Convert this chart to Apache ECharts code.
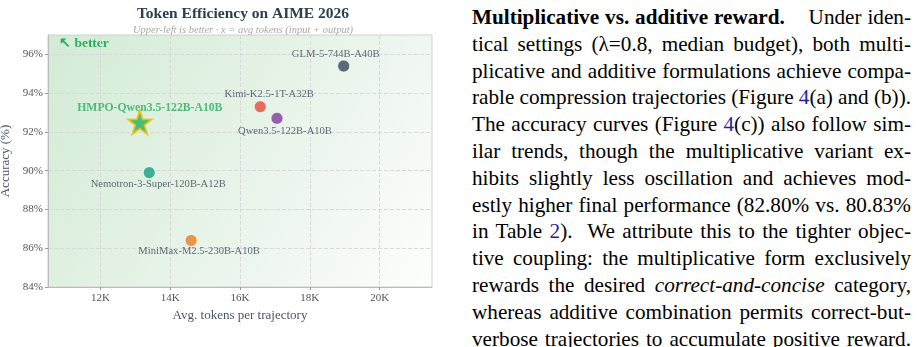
<!DOCTYPE html>
<html>
<head>
<meta charset="utf-8">
<script src="https://cdn.jsdelivr.net/npm/echarts@6/dist/echarts.min.js"></script>
<style>
  html, body { margin: 0; padding: 0; background: #fff; width: 917px; height: 347px; overflow: hidden; }
  #chart { position: absolute; left: 0; top: 0; width: 440px; height: 347px; }
  #text { position: absolute; left: 472px; top: 4px; width: 439px; font-family: "Liberation Serif", "Times New Roman", serif; font-size: 21.2px; line-height: 26.8px; color: #000; word-spacing: -2px; }
  #text div { text-align: justify; text-align-last: justify; height: 26.8px; overflow: visible; }
  #text a { color: #1f1fa8; text-decoration: none; }
</style>
</head>
<body>
<div id="chart"></div>
<div id="text">
  <div><b>Multiplicative vs. additive reward.</b>&nbsp;&nbsp;&nbsp; Under iden-</div>
  <div>tical settings (λ=0.8, median budget), both multi-</div>
  <div>plicative and additive formulations achieve compa-</div>
  <div>rable compression trajectories (Figure <a>4</a>(a) and (b)).</div>
  <div>The accuracy curves (Figure <a>4</a>(c)) also follow sim-</div>
  <div>ilar trends, though the multiplicative variant ex-</div>
  <div>hibits slightly less oscillation and achieves mod-</div>
  <div>estly higher final performance (82.80% vs. 80.83%</div>
  <div>in Table <a>2</a>). &nbsp;We attribute this to the tighter objec-</div>
  <div>tive coupling: the multiplicative form exclusively</div>
  <div>rewards the desired <i>correct-and-concise</i> category,</div>
  <div>whereas additive combination permits correct-but-</div>
  <div>verbose trajectories to accumulate positive reward.</div>
</div>
<script>
// ---- data ----
const models = ["GLM-5-744B-A40B", "Kimi-K2.5-1T-A32B", "Qwen3.5-122B-A10B", "Nemotron-3-Super-120B-A12B", "MiniMax-M2.5-230B-A10B"];
const tokens = [18970, 16580, 17060, 13400, 14600];
const accuracy = [95.4, 93.3, 92.7, 89.9, 86.4];
const hmpoName = "HMPO-Qwen3.5-122B-A10B";
const hmpoTokens = [13130];
const hmpoAccuracy = [92.5];
const xTicks = [12000, 14000, 16000, 18000, 20000];
const yTicks = [84, 86, 88, 90, 92, 94, 96];

// ---- styles ----
const colors = ["#34495e", "#e74c3c", "#7d3c98", "#16a085", "#e67e22"];
const labelPos = [
  { position: "top", offset: [-8, 5] },
  { position: "top", offset: [9, 4] },
  { position: "bottom", offset: [8, -4] },
  { position: "bottom", offset: [9, -5] },
  { position: "bottom", offset: [8, -6] }
];
const serif = '"Liberation Serif", "Times New Roman", serif';
const starPath = "path://M50,5 L61.2,38.2 L96.3,38.6 L68.2,59.6 L78.6,93.2 L50,72.9 L21.4,93.2 L31.8,59.6 L3.7,38.6 L38.8,38.2 Z";

const chart = echarts.init(document.getElementById("chart"), null, { renderer: "canvas" });
chart.setOption({
  animation: false,
  title: {
    text: "Token Efficiency on AIME 2026",
    subtext: "Upper-left is better \u00b7 x = avg tokens (input + output)",
    left: 238, textAlign: "center", top: 1, itemGap: 3,
    textStyle: { fontFamily: serif, fontSize: 15.5, fontWeight: "bold", color: "#2c3e50" },
    subtextStyle: { fontFamily: serif, fontSize: 10.5, fontStyle: "italic", color: "#a8a8a8" }
  },
  grid: {
    left: 48, right: 8, top: 35, bottom: 60, show: true,
    outerBoundsMode: "none", containLabel: false,
    borderColor: "#d0d0d0", borderWidth: 1,
    backgroundColor: { type: "linear", x: 0, y: 0, x2: 1, y2: 1,
      colorStops: [{ offset: 0, color: "#d2ebd5" }, { offset: 0.55, color: "#e9f4ea" }, { offset: 1, color: "#fdfefd" }] }
  },
  graphic: [{
    type: "text", left: 59, top: 37,
    style: { text: "\u2196 better", font: 'bold 13.5px "Liberation Serif", serif', fill: "#27ae60" }
  }],
  xAxis: {
    type: "value", min: 10500, max: 21500,
    name: "Avg. tokens per trajectory", nameLocation: "middle", nameGap: 18,
    nameTextStyle: { fontFamily: serif, fontSize: 13, color: "#4a5563" },
    axisLine: { show: true, lineStyle: { color: "#bbbbbb" } },
    axisTick: { show: true, length: 3, customValues: xTicks, lineStyle: { color: "#999" } },
    axisLabel: { customValues: xTicks, fontFamily: serif, fontSize: 11, color: "#555", margin: 6,
      formatter: v => (v / 1000) + "K" },
    splitLine: { show: true, lineStyle: { color: "#d8d8d8", type: "dashed" } }
  },
  yAxis: {
    type: "value", min: 84, max: 97,
    name: "Accuracy (%)", nameLocation: "middle", nameGap: 33,
    nameTextStyle: { fontFamily: serif, fontSize: 13, color: "#4a5563" },
    axisLine: { show: true, lineStyle: { color: "#bbbbbb" } },
    axisTick: { show: true, length: 3, customValues: yTicks, lineStyle: { color: "#999" } },
    axisLabel: { customValues: yTicks, fontFamily: serif, fontSize: 11, color: "#555", margin: 5,
      formatter: v => v + "%" },
    splitLine: { show: true, lineStyle: { color: "#d8d8d8", type: "dashed" } }
  },
  series: [
    {
      type: "scatter",
      symbolSize: 12,
      data: models.map((m, i) => ({
        name: m, value: [tokens[i], accuracy[i]],
        itemStyle: { color: colors[i], borderColor: "#ffffff", borderWidth: 0.8 },
        label: { show: true, formatter: m, position: labelPos[i].position, offset: labelPos[i].offset,
          fontFamily: serif, fontSize: 10.6, color: "#3b4656" }
      }))
    },
    {
      type: "scatter",
      symbol: starPath,
      symbolSize: 24,
      z: 5,
      data: hmpoTokens.map((t, i) => ({
        name: hmpoName, value: [t, hmpoAccuracy[i]],
        itemStyle: { color: "#27ae60", borderColor: "#f1c40f", borderWidth: 2 },
        label: { show: true, formatter: hmpoName, position: "top", offset: [10, 10],
          fontFamily: serif, fontSize: 11.7, fontWeight: "bold", color: "#27ae60" }
      }))
    }
  ]
});
</script>
</body>
</html>
